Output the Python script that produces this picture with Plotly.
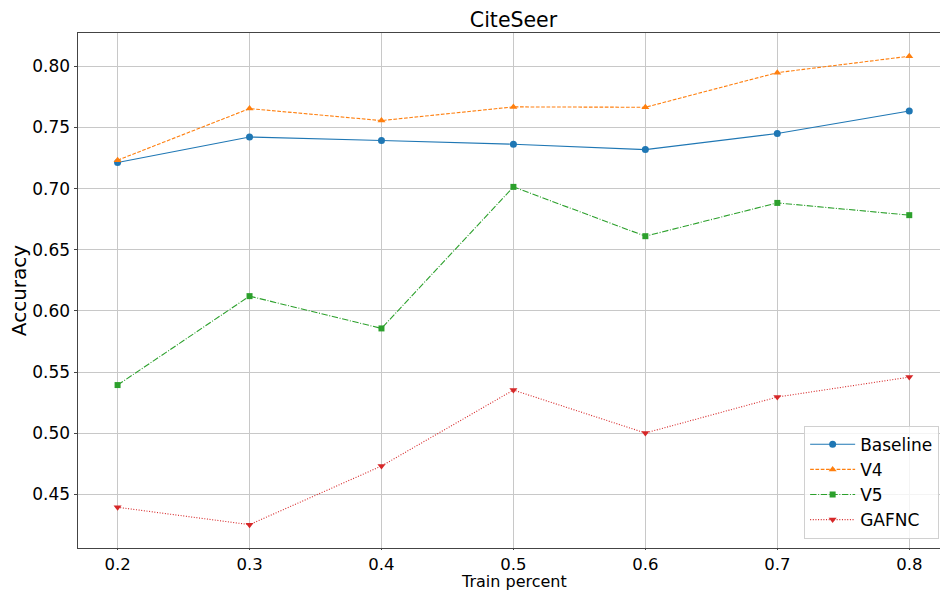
import plotly.graph_objects as go

# Accuracy on CiteSeer for each training split
train_percent = [0.2, 0.3, 0.4, 0.5, 0.6, 0.7, 0.8]
baseline = [0.7213, 0.7422, 0.7393, 0.7363, 0.7319, 0.7450, 0.7635]
v4 = [0.7232, 0.7654, 0.7556, 0.7668, 0.7665, 0.7948, 0.8082]
v5 = [0.5394, 0.6121, 0.5857, 0.7014, 0.6611, 0.6883, 0.6783]
gafnc = [0.4395, 0.4253, 0.4732, 0.5353, 0.5002, 0.5296, 0.5459]
x_ticks = [0.2, 0.3, 0.4, 0.5, 0.6, 0.7, 0.8]
y_ticks = [0.45, 0.50, 0.55, 0.60, 0.65, 0.70, 0.75, 0.80]

FONT = "DejaVu Sans"
PLOT_TOP, PLOT_BOTTOM = 33, 548

series = [
    ("Baseline", baseline, "#1f77b4", "solid", "circle", 7),
    ("V4", v4, "#ff7f0e", "3.7px,1.6px", "triangle-up", 7),
    ("V5", v5, "#2ca02c", "6.4px,1.6px,1px,1.6px", "square", 6),
    ("GAFNC", gafnc, "#d62728", "1px,1.65px", "triangle-down", 7),
]

fig = go.Figure()
for name, vals, color, dash, symbol, msize in series:
    fig.add_trace(go.Scatter(
        x=train_percent, y=vals, name=name, mode="lines+markers",
        line=dict(color=color, width=1.1, dash=dash),
        marker=dict(symbol=symbol, size=msize, color=color, line=dict(width=0)),
    ))

fig.update_layout(
    width=940, height=590,
    margin=dict(l=78, r=0, t=PLOT_TOP, b=590 - PLOT_BOTTOM, autoexpand=False),
    paper_bgcolor="white", plot_bgcolor="white",
    font=dict(family=FONT, size=17, color="black"),
    title=dict(text="CiteSeer", x=513.5 / 940, xanchor="center",
               y=1 - 20 / 590, yanchor="middle", font=dict(size=20.5)),
    showlegend=True,
    legend=dict(x=0.999, xanchor="right", y=0.018, yanchor="bottom",
                bgcolor="rgba(255,255,255,0.8)", bordercolor="#d0d0d0",
                borderwidth=1, font=dict(size=17), itemwidth=45),
)

# x-axis title placed just under the tick labels
fig.add_annotation(
    text="Train percent", xref="paper", yref="paper",
    x=(513.5 - 78) / (940 - 78), y=-(581.5 - PLOT_BOTTOM) / (PLOT_BOTTOM - PLOT_TOP),
    xanchor="center", yanchor="middle", showarrow=False,
    font=dict(family=FONT, size=16, color="black"),
)

fig.update_xaxes(
    range=[0.17, 0.8233], tickvals=x_ticks, ticktext=[f"{v:.1f}" for v in x_ticks],
    showgrid=True, gridcolor="#c8c8c8", gridwidth=0.8,
    showline=True, linecolor="#444444", linewidth=1, mirror=True,
    ticks="outside", ticklen=1, tickcolor="#444444", zeroline=False,
    tickfont=dict(size=16.5),
)
fig.update_yaxes(
    range=[0.4062, 0.8272], tickvals=y_ticks, ticktext=[f"{v:.2f}" for v in y_ticks],
    showgrid=True, gridcolor="#c8c8c8", gridwidth=0.8,
    showline=True, linecolor="#444444", linewidth=1,
    ticks="outside", ticklen=3.5, tickcolor="#444444", zeroline=False,
    title=dict(text="Accuracy", standoff=0),
)

fig.write_html("out.html")
